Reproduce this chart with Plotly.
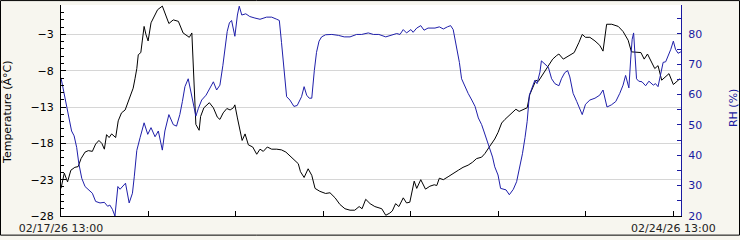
import pandas as pd
import plotly.graph_objects as go

start = pd.Timestamp("2026-02-17 13:00")

temp_hours = [0, 0.9, 1.8, 2.7, 3.8, 4.7, 5.5, 6.6, 7.5, 8.6, 9.5, 10.4, 11.2, 11.9, 12.5, 13.2, 13.9, 15.0,
              15.7, 16.6, 17.6, 18.5, 19.8, 20.3, 20.8, 21.2, 21.9, 22.3, 22.8, 23.3, 23.9, 24.7, 25.6, 26.5,
              27.8, 28.5, 29.6, 30.8, 32.2, 33.5, 34.6, 35.2, 35.9, 36.3, 36.8, 37.0, 37.9, 38.3, 39.2, 40.7,
              41.8, 42.9, 43.6, 44.5, 45.5, 46.4, 47.3, 47.7, 48.4, 49.1, 49.7, 50.5, 51.4, 52.6, 53.7, 54.6,
              55.5, 56.6, 57.8, 59.2, 60.5, 61.7, 62.8, 64.2, 65.1, 65.7, 66.7, 67.8, 68.8, 69.7, 71.0, 72.6,
              73.8, 75.2, 76.5, 77.9, 79.3, 80.6, 81.8, 82.6, 83.6, 84.8, 86.1, 88.0, 89.1, 90.2, 90.9, 91.8,
              92.7, 93.9, 94.8, 95.7, 96.4, 96.9, 97.6, 98.7, 100.0, 101.2, 102.4, 103.1, 103.8, 104.9, 106.2,
              107.6, 109.0, 110.3, 111.7, 112.9, 114.0, 115.4, 116.3, 117.5, 119.0, 119.9, 120.9, 121.8, 123.2,
              124.8, 125.7, 126.8, 127.9, 128.6, 129.4, 130.3, 130.9, 132.3, 133.7, 134.9, 136.0, 136.6, 137.8,
              139.1, 140.8, 142.1, 143.0, 143.9, 145.1, 146.5, 147.8, 148.7, 149.2, 149.7, 151.1, 152.9, 154.2,
              155.6, 156.5, 157.9, 159.1, 160.0, 160.9, 162.0, 162.9, 163.8, 164.8, 165.7, 166.8, 168.0, 168.9,
              169.8]
temp_values = [-24.2, -22.1, -23.3, -21.7, -21.3, -21.2, -20.1, -19.2, -19.0, -19.1, -18.1, -17.6, -18.0, -18.8,
               -16.8, -17.2, -16.7, -17.2, -14.9, -13.8, -13.4, -12.2, -10.4, -9.1, -7.7, -5.8, -5.5, -3.9, -1.9,
               -3.0, -3.9, -1.4, -0.5, 0.4, 0.9, -0.1, -1.5, -1.0, -1.2, -2.8, -3.2, -3.4, -2.8, -8.2, -14.0,
               -15.4, -16.2, -14.3, -13.1, -12.4, -13.1, -14.4, -14.7, -13.8, -13.2, -13.4, -13.1, -12.7, -14.5,
               -16.1, -17.6, -16.7, -18.2, -18.5, -19.5, -18.8, -19.1, -18.5, -18.8, -18.8, -18.9, -19.2, -19.7,
               -20.3, -20.8, -21.9, -22.7, -21.5, -22.4, -24.2, -24.6, -24.9, -24.8, -25.5, -26.4, -27.0, -27.2,
               -27.2, -26.7, -27.0, -25.7, -26.3, -26.7, -27.0, -27.9, -27.6, -27.3, -26.3, -26.7, -25.5, -26.2,
               -26.1, -24.2, -23.2, -24.2, -23.0, -24.3, -23.9, -23.7, -23.8, -22.8, -23.0, -22.6, -22.1, -21.7,
               -21.3, -21.0, -20.6, -20.1, -19.9, -19.4, -18.5, -17.4, -16.5, -15.2, -14.7, -14.1, -13.3, -13.6,
               -13.4, -13.1, -11.3, -10.4, -9.3, -9.5, -8.4, -7.2, -6.4, -5.9, -5.7, -6.4, -6.0, -5.5, -4.1,
               -3.0, -3.4, -3.4, -3.9, -4.5, -5.3, -3.1, -1.6, -1.6, -1.9, -2.6, -3.8, -5.4, -5.5, -5.5, -6.4,
               -5.7, -6.8, -7.7, -7.3, -9.3, -8.9, -8.4, -9.9, -9.5, -9.1]

rh_hours = [0, 0.6, 1.6, 2.2, 2.9, 3.6, 4.3, 4.9, 5.7, 6.6, 7.5, 8.6, 9.5, 10.7, 11.9, 12.8, 13.4, 14.1, 14.8,
            15.6, 16.2, 16.9, 17.7, 18.7, 19.6, 20.1, 20.8, 21.7, 22.8, 23.8, 24.7, 25.8, 26.7, 27.8, 28.5,
            29.6, 30.8, 31.7, 32.6, 33.3, 34.0, 34.9, 35.6, 36.3, 37.0, 37.7, 38.6, 39.8, 40.7, 41.8, 42.7,
            43.6, 44.4, 45.0, 45.6, 46.2, 46.8, 47.7, 48.4, 48.9, 49.6, 50.7, 51.8, 53.2, 54.6, 56.4, 57.8,
            59.2, 59.9, 60.5, 61.2, 61.9, 62.8, 63.9, 64.8, 66.0, 66.7, 67.4, 68.1, 68.8, 69.5, 70.1, 70.8,
            71.5, 72.6, 74.3, 76.1, 77.7, 79.3, 81.1, 82.5, 84.3, 85.7, 87.2, 89.1, 90.9, 92.1, 93.0, 93.9,
            94.8, 96.0, 96.6, 97.6, 98.7, 99.6, 100.7, 102.6, 103.8, 104.9, 106.0, 106.9, 107.6, 108.5, 109.3,
            109.9, 110.8, 111.7, 112.7, 113.6, 114.5, 115.4, 116.0, 116.9, 117.7, 118.4, 119.0, 119.9, 120.6,
            121.3, 122.1, 123.0, 124.1, 125.0, 125.7, 126.6, 127.3, 127.9, 128.5, 129.1, 130.0, 130.6, 131.4,
            131.8, 132.8, 133.7, 134.6, 135.5, 136.6, 137.3, 138.2, 139.0, 139.6, 140.5, 141.5, 142.4, 143.0,
            143.9, 145.1, 146.5, 147.8, 148.7, 149.2, 149.8, 151.0, 152.2, 153.3, 154.2, 154.9, 155.8, 156.3,
            156.7, 157.1, 157.4, 157.9, 158.5, 159.4, 160.4, 161.3, 162.5, 163.1, 163.8, 164.6, 165.2, 165.9,
            166.6, 167.3, 168.0, 168.6, 169.3, 170.1]
rh_values = [65.5, 62.0, 56.6, 52.3, 48.0, 46.4, 42.6, 37.2, 32.4, 29.7, 28.6, 27.5, 24.8, 24.3, 24.5, 23.2, 23.6,
             22.2, 20.0, 29.7, 28.8, 29.9, 30.8, 24.3, 27.5, 32.9, 41.6, 45.8, 50.7, 46.9, 49.1, 46.1, 48.0, 41.7,
             48.0, 53.4, 50.1, 49.6, 53.4, 57.7, 62.6, 65.2, 60.9, 56.6, 52.9, 55.5, 58.2, 59.8, 62.0, 64.2, 61.5,
             63.1, 69.5, 74.9, 80.8, 83.6, 84.4, 79.2, 86.2, 89.1, 86.2, 86.6, 85.7, 85.2, 84.8, 85.5, 85.5, 84.8,
             84.4, 77.1, 68.5, 59.3, 58.2, 56.1, 56.4, 59.3, 62.6, 59.8, 58.8, 58.8, 67.9, 73.9, 77.6, 79.0, 79.7,
             79.8, 79.5, 79.0, 79.0, 79.8, 79.8, 80.3, 79.8, 79.8, 79.0, 79.8, 80.1, 79.8, 81.4, 80.3, 81.4, 80.5,
             81.9, 82.7, 81.2, 81.9, 81.9, 82.3, 81.6, 82.3, 82.7, 81.4, 76.0, 70.6, 65.2, 62.6, 60.4, 58.2, 56.1,
             52.3, 50.1, 48.0, 44.8, 42.6, 39.4, 36.2, 33.5, 29.1, 28.8, 28.6, 27.0, 28.8, 31.3, 35.1, 40.5, 45.8,
             51.2, 59.8, 62.0, 64.7, 63.6, 67.4, 71.1, 70.1, 69.0, 65.2, 63.6, 62.9, 65.2, 67.2, 67.9, 65.8, 60.4,
             57.7, 55.0, 53.4, 56.8, 58.2, 58.8, 59.8, 61.5, 58.8, 55.9, 56.6, 57.7, 60.4, 63.1, 66.3, 62.2, 71.7,
             78.2, 80.3, 73.9, 65.2, 64.4, 64.2, 62.9, 64.4, 63.1, 63.6, 62.6, 67.9, 70.6, 70.8, 72.8, 74.9, 77.6,
             74.9, 73.6, 74.1]

day_ticks = [start + pd.Timedelta(days=d) for d in range(8)]
day_labels = ["02/17/26 13:00", "", "", "", "", "", "", "02/24/26 13:00"]
temp_ticks = [-28, -23, -18, -13, -8, -3]
rh_ticks = [20, 30, 40, 50, 60, 70, 80]

t_x = [start + pd.Timedelta(hours=h) for h in temp_hours]
r_x = [start + pd.Timedelta(hours=h) for h in rh_hours]

BLUE = "#1f1faa"
AXBLUE = "#1a1aa0"
FONT = "DejaVu Sans"

fig = go.Figure()
fig.add_trace(go.Scatter(x=t_x, y=temp_values, mode="lines", line=dict(color="black", width=1),
                         yaxis="y", showlegend=False))
fig.add_trace(go.Scatter(x=r_x, y=rh_values, mode="lines", line=dict(color=BLUE, width=1),
                         yaxis="y2", showlegend=False))

fig.update_layout(
    width=740, height=240,
    margin=dict(l=61, r=59, t=5, b=20),
    paper_bgcolor="#f7f6ef",
    plot_bgcolor="white",
    font=dict(family=FONT, size=11, color="black"),
    xaxis=dict(
        type="date",
        range=[start, start + pd.Timedelta(hours=170.1)],
        tickvals=day_ticks, ticktext=day_labels,
        ticks="inside", ticklen=5, tickcolor="black",
        showline=True, linecolor="black", linewidth=1,
        showgrid=False, zeroline=False,
        tickfont=dict(family=FONT, size=11, color="#222222"),
        ticklabelstandoff=2,
    ),
    yaxis=dict(
        range=[-28, 1.05],
        tickvals=temp_ticks,
        ticks="inside", ticklen=5, tickcolor="black",
        minor=dict(dtick=1, tick0=-28, ticks="inside", ticklen=3, tickcolor="black", showgrid=False),
        showline=True, linecolor="black", linewidth=1,
        showgrid=True, gridcolor="#d6d6d6", gridwidth=1,
        zeroline=False,
        tickfont=dict(family=FONT, size=11, color="black"),
        ticklabelstandoff=4,
    ),
    yaxis2=dict(
        overlaying="y", side="right",
        range=[20, 89.5],
        tickvals=rh_ticks,
        ticks="inside", ticklen=4, tickcolor=AXBLUE,
        minor=dict(dtick=5, tick0=20, ticks="inside", ticklen=4, tickcolor=AXBLUE, showgrid=False),
        showline=True, linecolor=AXBLUE, linewidth=1,
        showgrid=False, zeroline=False,
        tickfont=dict(family=FONT, size=11, color=AXBLUE),
        ticklabelstandoff=4,
    ),
    annotations=[
        dict(text="Temperature (Â°C)", textangle=-90, xref="paper", yref="paper",
             x=(8 - 61) / 620, y=(220 - 115) / 215, xanchor="center", yanchor="middle",
             showarrow=False, font=dict(family=FONT, size=11, color="black")),
        dict(text="RH (%)", textangle=-90, xref="paper", yref="paper",
             x=(733 - 61) / 620, y=(220 - 110) / 215, xanchor="center", yanchor="middle",
             showarrow=False, font=dict(family=FONT, size=11, color=AXBLUE)),
    ],
    shapes=[
        dict(type="rect", xref="paper", yref="paper",
             x0=(0.5 - 61) / 620, x1=(739.5 - 61) / 620,
             y0=(220 - 239.5) / 215, y1=(220 - 0.5) / 215,
             line=dict(color="black", width=1), fillcolor="rgba(0,0,0,0)", layer="above"),
    ],
)

fig.write_html("out.html")
